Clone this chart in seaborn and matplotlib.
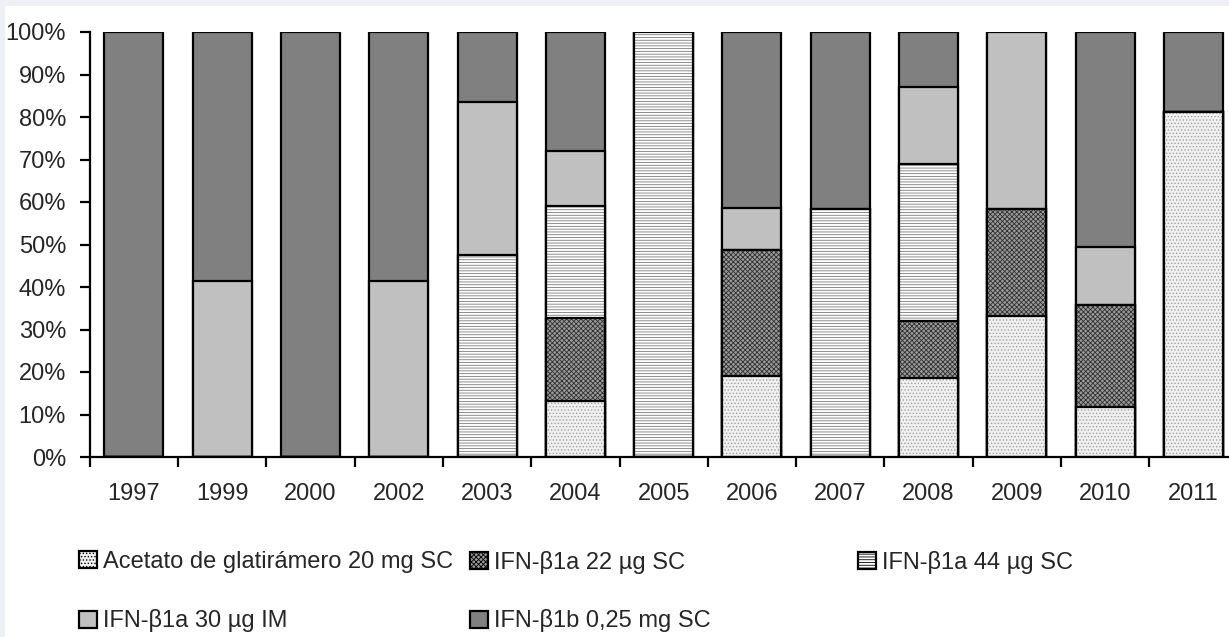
import numpy as np
import pandas as pd
import seaborn as sns
import matplotlib.pyplot as plt
from matplotlib.patches import Patch, Rectangle

years = ['1997', '1999', '2000', '2002', '2003', '2004', '2005',
         '2006', '2007', '2008', '2009', '2010', '2011']
glatiramero = [0, 0, 0, 0, 0, 13.2, 0, 19.1, 0, 18.6, 33.2, 11.8, 81.2]
b1a_22 = [0, 0, 0, 0, 0, 19.5, 0, 29.6, 0, 13.4, 25.2, 24.0, 0]
b1a_44 = [0, 0, 0, 0, 47.5, 26.3, 100, 0, 58.4, 36.9, 0, 0, 0]
b1a_30 = [0, 41.4, 0, 41.4, 36.0, 13.0, 0, 9.9, 0, 18.1, 41.6, 13.6, 0]

etiquetas = ['Acetato de glatirámero 20 mg SC', 'IFN-β1a 22 µg SC',
             'IFN-β1a 44 µg SC', 'IFN-β1a 30 µg IM', 'IFN-β1b 0,25 mg SC']

df = pd.DataFrame({'year': years,
                   etiquetas[0]: glatiramero,
                   etiquetas[1]: b1a_22,
                   etiquetas[2]: b1a_44,
                   etiquetas[3]: b1a_30})
df[etiquetas[4]] = 100 - df[etiquetas[:4]].sum(axis=1)
cum = df[etiquetas].cumsum(axis=1)

# relleno, trama, color de la trama
estilos = {
    etiquetas[0]: ('#f0f0f0', '.....', '#a0a0a0'),
    etiquetas[1]: ('#9a9a9a', 'xxxxxxx', '#303030'),
    etiquetas[2]: ('#ffffff', '------', '#7a7a7a'),
    etiquetas[3]: ('#c0c0c0', None, '#c0c0c0'),
    etiquetas[4]: ('#808080', None, '#808080'),
}

sns.set_style('ticks')
plt.rcParams['font.family'] = ['Liberation Sans', 'DejaVu Sans']
plt.rcParams['hatch.linewidth'] = 0.6
fs = 17

fig = plt.figure(figsize=(12.29, 6.37), dpi=100, facecolor='#eef0f3')
fig.patches.append(Rectangle((5 / 1229, 0), 1, 1 - 6 / 637, transform=fig.transFigure,
                             facecolor='white', edgecolor='none', zorder=-10))
ax = fig.add_axes([89.7 / 1229, 1 - 457 / 637, (1237.6 - 89.7) / 1229, 425 / 637])
ax.set_facecolor('none')

ancho = 0.668
for col in etiquetas[::-1]:
    face, hatch, hcol = estilos[col]
    sns.barplot(x=years, y=cum[col].tolist(), order=years, color=face, saturation=1,
                width=ancho, hatch=hatch, edgecolor=hcol, linewidth=0,
                errorbar=None, ax=ax)
    sns.barplot(x=years, y=cum[col].tolist(), order=years, color='black', fill=False,
                width=ancho, linewidth=1.6, errorbar=None, ax=ax)

ax.set_ylim(0, 100)
ax.set_xlim(-0.5, 12.5)
ax.set_yticks(range(0, 101, 10))
ax.set_yticklabels([f'{v}%' for v in range(0, 101, 10)], fontsize=fs)
ax.set_xticks(np.arange(-0.5, 13, 1))
ax.set_xticklabels([])
ax.set_xticks(range(len(years)), minor=True)
ax.set_xticklabels(years, minor=True, fontsize=fs)
ax.tick_params(axis='x', which='major', length=7, width=1.6, direction='out', color='black')
ax.tick_params(axis='x', which='minor', length=0, pad=19)
ax.tick_params(axis='y', length=7, width=1.6, direction='out', color='black', pad=10)
ax.set_xlabel('')
ax.set_ylabel('')
sns.despine(ax=ax)
for s in ['left', 'bottom']:
    ax.spines[s].set_linewidth(1.6)
    ax.spines[s].set_color('black')

# leyenda: cada entrada en su sitio
posiciones = [(79, 562), (470, 562), (858, 562), (79, 621), (470, 621)]
for col, (px, py) in zip(etiquetas, posiciones):
    face, hatch, hcol = estilos[col]
    h = Patch(facecolor=face, hatch=hatch, edgecolor='black', linewidth=1.6)
    fig.legend(handles=[h], labels=[col], loc='center left',
               bbox_to_anchor=(px / 1229, 1 - py / 637), frameon=False,
               borderpad=0, borderaxespad=0, handlelength=0.75, handleheight=0.75,
               handletextpad=0.25, fontsize=fs)

fig.savefig('out.png', dpi=100, facecolor=fig.get_facecolor())
